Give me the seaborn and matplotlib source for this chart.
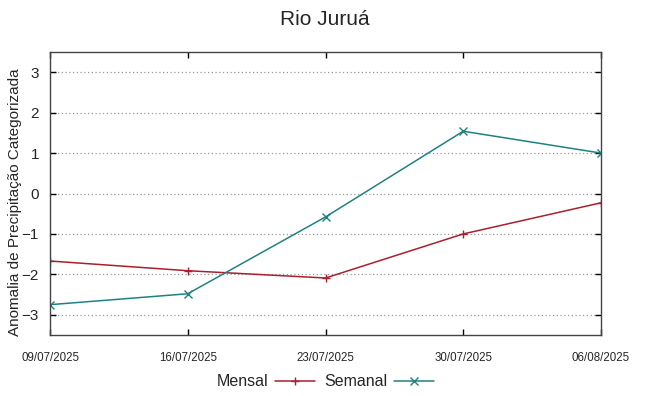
import matplotlib
matplotlib.use('Agg')
import matplotlib.pyplot as plt
import seaborn as sns
import pandas as pd

# Data
datas = ['09/07/2025', '16/07/2025', '23/07/2025', '30/07/2025', '06/08/2025']
mensal = [-1.67, -1.91, -2.09, -1.0, -0.23]
semanal = [-2.75, -2.48, -0.58, 1.54, 1.0]
yticks = [-3, -2, -1, 0, 1, 2, 3]

df = pd.DataFrame({'data': datas * 2,
                   'x': list(range(len(datas))) * 2,
                   'valor': mensal + semanal,
                   'serie': ['Mensal'] * len(datas) + ['Semanal'] * len(datas)})

sns.set_style('white')
plt.rcParams['font.family'] = ['Liberation Sans', 'DejaVu Sans']

fig = plt.figure(figsize=(6.49, 3.96), dpi=100)
ax = fig.add_axes([50 / 649, 61 / 396, 551 / 649, 283 / 396])

cores = {'Mensal': '#a8202e', 'Semanal': '#1f8282'}
sns.lineplot(data=df, x='x', y='valor', hue='serie', style='serie',
             markers={'Mensal': '+', 'Semanal': 'x'},
             dashes={'Mensal': '', 'Semanal': ''},
             palette=cores, linewidth=1.1, markersize=6, ax=ax)
for ln in ax.lines:
    ln.set_markeredgecolor(ln.get_color())
    ln.set_markeredgewidth(1.0)
    ln.set_linestyle('-')

ax.set_xlim(0, len(datas) - 1)
ax.set_ylim(-3.5, 3.5)
ax.set_xticks(range(len(datas)))
ax.set_xticklabels(datas, fontsize=8.3)
ax.set_yticks(yticks)
ax.tick_params(axis='y', labelsize=11)
ax.tick_params(direction='in', length=4, width=1, color='black',
               top=True, right=True, bottom=True, left=True, pad=8)
ax.tick_params(axis='x', pad=12)
ax.yaxis.grid(True, linestyle=(0, (1, 2)), color='#999999', linewidth=0.9)
for s in ax.spines.values():
    s.set_color('#444444')
    s.set_linewidth(1.0)

ax.set_xlabel('')
ax.set_ylabel('Anomalia de Precipitação Categorizada', fontsize=11)
ax.yaxis.set_label_coords(-0.05, 0.47)
fig.suptitle('Rio Juruá', fontsize=15, y=0.975)

handles, labels = ax.get_legend_handles_labels()
for h in handles:
    h.set_markeredgecolor(h.get_color())
    h.set_linestyle('-')
ax.legend(handles, labels, loc='center', bbox_to_anchor=(0.5, -0.165),
          ncol=2, frameon=False, markerfirst=False, fontsize=11.5,
          handlelength=2.5, columnspacing=0.6, handletextpad=0.4)

fig.savefig('out.png', dpi=100)
